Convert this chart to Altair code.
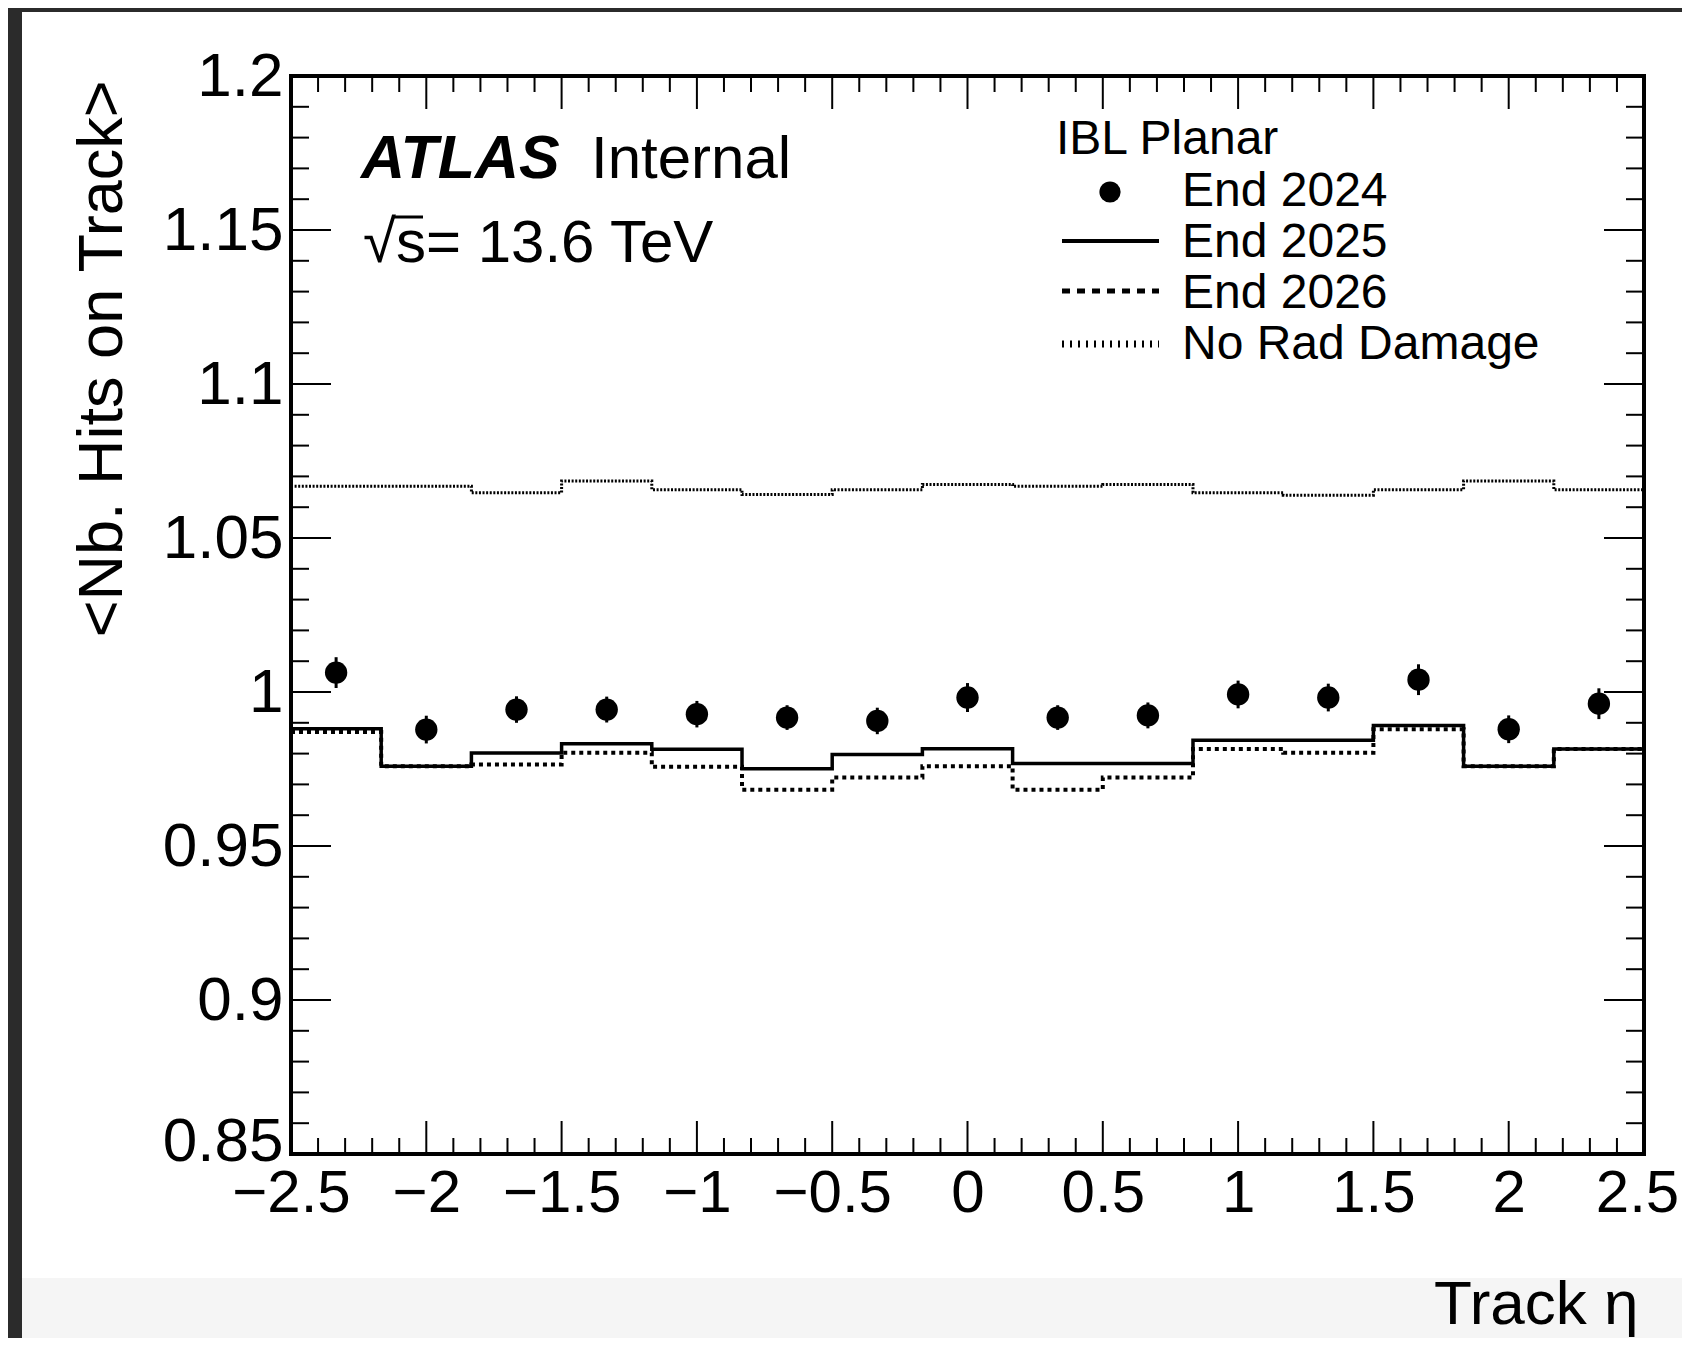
import altair as alt
import numpy as np
import pandas as pd

# ---------------- data ----------------
bin_edges = [-2.5, -2.1667, -1.8333, -1.5, -1.1667, -0.8333, -0.5, -0.1667,
             0.1667, 0.5, 0.8333, 1.1667, 1.5, 1.8333, 2.1667, 2.5]
bin_centers = [-2.3333, -2.0, -1.6667, -1.3333, -1.0, -0.6667, -0.3333, 0.0,
               0.3333, 0.6667, 1.0, 1.3333, 1.6667, 2.0, 2.3333]

end2024 = [1.0063, 0.9878, 0.9943, 0.9943, 0.9928, 0.9917, 0.9906, 0.9982,
           0.9917, 0.9924, 0.9992, 0.9982, 1.0040, 0.9879, 0.9962]
end2024_err = [0.0050, 0.0045, 0.0043, 0.0042, 0.0043, 0.0040, 0.0043, 0.0047,
               0.0040, 0.0042, 0.0045, 0.0045, 0.0050, 0.0045, 0.0050]
end2025 = [0.9881, 0.9759, 0.9802, 0.9832, 0.9814, 0.9751, 0.9797, 0.9816,
           0.9768, 0.9768, 0.9843, 0.9843, 0.9891, 0.9759, 0.9815]
end2026 = [0.9870, 0.9759, 0.9765, 0.9803, 0.9757, 0.9683, 0.9722, 0.9759,
           0.9683, 0.9722, 0.9815, 0.9803, 0.9879, 0.9759, 0.9815]
no_rad = [1.0668, 1.0668, 1.0647, 1.0685, 1.0657, 1.0641, 1.0657, 1.0674,
          1.0668, 1.0674, 1.0647, 1.0639, 1.0657, 1.0685, 1.0657]

x_major = [-2.5, -2.0, -1.5, -1.0, -0.5, 0.0, 0.5, 1.0, 1.5, 2.0, 2.5]
y_major = [0.85, 0.9, 0.95, 1.0, 1.05, 1.1, 1.15, 1.2]
x_minor = [v for v in np.round(np.arange(-2.5, 2.5001, 0.1), 2) if not np.isclose(v * 2, round(v * 2))]
y_minor = [v for v in np.round(np.arange(0.85, 1.2001, 0.01), 2) if not np.isclose(v * 20, round(v * 20))]

legend_header = "IBL Planar"
legend_labels = ["End 2024", "End 2025", "End 2026", "No Rad Damage"]
x_title = "Track η"
y_title = "<Nb. Hits on Track>"

# ---------------- layout ----------------
W, H = 1353, 1078
FONT = "Liberation Sans"

x_scale = alt.Scale(domain=[-2.5, 2.5], nice=False, zero=False)
y_scale = alt.Scale(domain=[0.85, 1.2], nice=False, zero=False)

x_axis = alt.Axis(values=x_major, format=".1~f", ticks=False, domain=False, grid=False,
                  labelFont=FONT, labelFontSize=60, labelColor="black", labelPadding=10,
                  labelOffset={"condition": {"test": "datum.value >= 2.5", "value": -7}, "value": 0},
                  labelOverlap=False, labelFlush=False, labelBound=False, zindex=1,
                  title=x_title, titleFont=FONT, titleFontSize=62, titleFontWeight="normal",
                  titleColor="black", titleX=1347, titleY=169, titleAlign="right",
                  titleBaseline="alphabetic", titleAngle=0)
y_axis = alt.Axis(values=y_major, format=".2~f", ticks=False, domain=False, grid=False,
                  labelFont=FONT, labelFontSize=62, labelColor="black", labelPadding=8,
                  labelOffset={"condition": {"test": "datum.value <= 0.85", "value": -13}, "value": 0},
                  labelOverlap=False, labelFlush=False, labelBound=False, zindex=1,
                  title=y_title, titleFont=FONT, titleFontSize=63, titleFontWeight="normal",
                  titleColor="black", titleX=-189, titleY=4, titleAlign="right",
                  titleBaseline="middle", titleAngle=270)


def X(field="x"):
    return alt.X(f"{field}:Q", scale=x_scale, axis=x_axis)


def Y(field="y"):
    return alt.Y(f"{field}:Q", scale=y_scale, axis=y_axis)


one = alt.Data(values=[{"k": 1}])

# background panel (screenshot frame)
panel = alt.Chart(one).mark_rect(color="white").encode(
    x=alt.value(-269), x2=alt.value(1391), y=alt.value(-64), y2=alt.value(1202))
band = alt.Chart(one).mark_rect(color="#f5f5f5").encode(
    x=alt.value(-269), x2=alt.value(1391), y=alt.value(1202), y2=alt.value(1262))


def step_df(vals):
    return pd.DataFrame({"x": bin_edges, "y": list(vals) + [vals[-1]]})


def step_layer(vals, width, dash=None):
    kw = dict(interpolate="step-after", color="black", strokeWidth=width, strokeCap="butt")
    if dash is not None:
        kw["strokeDash"] = dash
    return alt.Chart(step_df(vals)).mark_line(**kw).encode(x=X(), y=Y())


norad_line = step_layer(no_rad, 3, [2, 1.6])
l2026 = step_layer(end2026, 4, [4, 4])
l2025 = step_layer(end2025, 3.5)

pts_df = pd.DataFrame({"x": bin_centers, "y": end2024, "e": end2024_err})
err = alt.Chart(pts_df).transform_calculate(lo="datum.y - datum.e", hi="datum.y + datum.e").mark_rule(
    color="black", strokeWidth=3).encode(x=X(), y=Y("lo"), y2="hi:Q")
pts = alt.Chart(pts_df).mark_circle(size=500, color="black", opacity=1).encode(x=X(), y=Y())

# inward ticks on all four sides
xM = pd.DataFrame({"x": x_major})
xm = pd.DataFrame({"x": x_minor})
yM = pd.DataFrame({"y": y_major})
ym = pd.DataFrame({"y": y_minor})
tick_layers = []
for df, ln in ((xM, 33), (xm, 16)):
    tick_layers.append(alt.Chart(df).mark_rule(color="black", strokeWidth=2).encode(
        x=X(), y=alt.value(H), y2=alt.value(H - ln)))
    tick_layers.append(alt.Chart(df).mark_rule(color="black", strokeWidth=2).encode(
        x=X(), y=alt.value(0), y2=alt.value(ln)))
for df, ln in ((yM, 40), (ym, 18)):
    tick_layers.append(alt.Chart(df).mark_rule(color="black", strokeWidth=2).encode(
        y=Y(), x=alt.value(0), x2=alt.value(ln)))
    tick_layers.append(alt.Chart(df).mark_rule(color="black", strokeWidth=2).encode(
        y=Y(), x=alt.value(W), x2=alt.value(W - ln)))

frame = alt.Chart(one).mark_rect(fillOpacity=0, stroke="black", strokeWidth=4).encode(
    x=alt.value(0), x2=alt.value(W), y=alt.value(0), y2=alt.value(H))


def txt(s, x, y, size, **kw):
    return alt.Chart(one).mark_text(align="left", baseline="alphabetic", font=FONT,
                                    fontSize=size, color="black", **kw).encode(
        x=alt.value(x), y=alt.value(y), text=alt.value(s))


atlas = txt("ATLAS", 70, 102, 61, fontWeight="bold", fontStyle="italic")
internal = txt("Internal", 300, 102, 60)
energy = txt("√s= 13.6 TeV", 72, 186, 60)
sqrt_bar = alt.Chart(one).mark_rule(color="black", strokeWidth=3).encode(
    x=alt.value(101), x2=alt.value(132), y=alt.value(141))

leg_head = txt(legend_header, 765, 78, 48)
leg_texts = [txt(lbl, 891, yy, 48) for lbl, yy in zip(legend_labels, [130, 181, 232, 283])]
leg_dot = alt.Chart(one).mark_circle(size=450, color="black", opacity=1).encode(
    x=alt.value(819), y=alt.value(116))
leg_2025 = alt.Chart(one).mark_rule(color="black", strokeWidth=4).encode(
    x=alt.value(771), x2=alt.value(868), y=alt.value(165))
leg_2026 = alt.Chart(one).mark_rule(color="black", strokeWidth=5, strokeDash=[8, 7]).encode(
    x=alt.value(771), x2=alt.value(868), y=alt.value(215))
leg_norad = alt.Chart(one).mark_rule(color="black", strokeWidth=7, strokeDash=[2, 6]).encode(
    x=alt.value(771), x2=alt.value(868), y=alt.value(268))

chart = alt.layer(
    panel, band, norad_line, l2026, l2025, err, pts, *tick_layers, frame,
    atlas, internal, energy, sqrt_bar, leg_head, *leg_texts, leg_dot, leg_2025, leg_2026, leg_norad
).properties(
    width=W, height=H,
    padding={"left": 283, "top": 68, "right": 38, "bottom": 184},
    autosize=alt.AutoSizeParams(type="none"),
    background="#2b2b2b",
).configure_view(stroke="transparent")

chart.save("out.html", embed_options={"renderer": "svg", "actions": False})
